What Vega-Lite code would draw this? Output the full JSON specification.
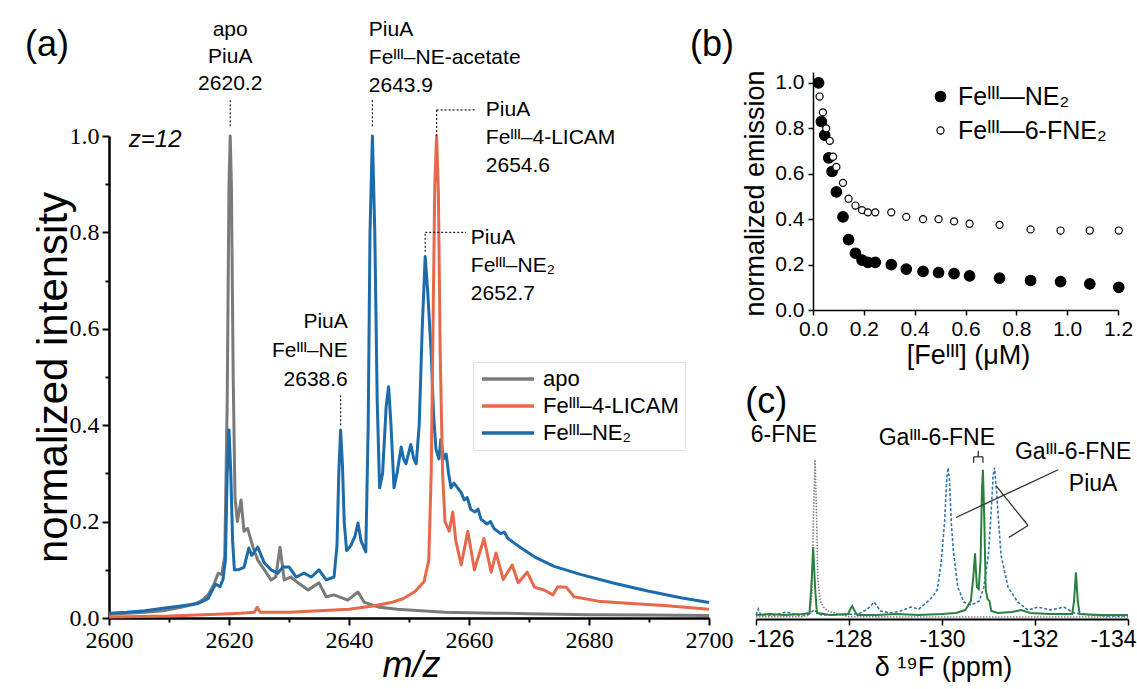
{
  "$schema": "https://vega.github.io/schema/vega-lite/v6.json",
  "background": "white",
  "padding": {"left": 24, "top": 18, "right": 0, "bottom": 0},
  "config": {
    "font": "Liberation Sans",
    "view": {"stroke": null},
    "axis": {"grid": false, "domainColor": "#000", "tickColor": "#000", "labelColor": "#000", "titleColor": "#000", "titleFontWeight": "normal", "labelFont": "Liberation Sans", "titleFont": "Liberation Sans", "labelFlush": false, "labelOverlap": false},
    "legend": {"labelFont": "Liberation Sans", "labelColor": "#000"},
    "text": {"font": "Liberation Sans", "color": "#000"}
  },
  "datasets": {
    "ms": [
      {"s":"apo","x":2600,"y":0.008},{"s":"apo","x":2603,"y":0.01},{"s":"apo","x":2606,"y":0.012},{"s":"apo","x":2609,"y":0.015},{"s":"apo","x":2612,"y":0.022},{"s":"apo","x":2614,"y":0.028},{"s":"apo","x":2615.3,"y":0.035},{"s":"apo","x":2616.5,"y":0.048},{"s":"apo","x":2617.5,"y":0.07},{"s":"apo","x":2618.2,"y":0.093},{"s":"apo","x":2618.8,"y":0.09},{"s":"apo","x":2619.3,"y":0.13},{"s":"apo","x":2619.7,"y":0.45},{"s":"apo","x":2620.0,"y":0.9},{"s":"apo","x":2620.2,"y":1.0},{"s":"apo","x":2620.4,"y":0.9},{"s":"apo","x":2620.7,"y":0.5},{"s":"apo","x":2621.0,"y":0.25},{"s":"apo","x":2621.4,"y":0.2},{"s":"apo","x":2622.0,"y":0.245},{"s":"apo","x":2622.5,"y":0.18},{"s":"apo","x":2623.1,"y":0.186},{"s":"apo","x":2624.0,"y":0.147},{"s":"apo","x":2624.8,"y":0.12},{"s":"apo","x":2625.9,"y":0.1},{"s":"apo","x":2627.0,"y":0.079},{"s":"apo","x":2627.8,"y":0.085},{"s":"apo","x":2628.5,"y":0.147},{"s":"apo","x":2629.2,"y":0.079},{"s":"apo","x":2630.3,"y":0.085},{"s":"apo","x":2631.5,"y":0.073},{"s":"apo","x":2633.2,"y":0.058},{"s":"apo","x":2635.0,"y":0.073},{"s":"apo","x":2636.2,"y":0.044},{"s":"apo","x":2637.5,"y":0.048},{"s":"apo","x":2639.8,"y":0.037},{"s":"apo","x":2641.5,"y":0.054},{"s":"apo","x":2642.5,"y":0.033},{"s":"apo","x":2644.8,"y":0.023},{"s":"apo","x":2648,"y":0.018},{"s":"apo","x":2652,"y":0.015},{"s":"apo","x":2656,"y":0.012},{"s":"apo","x":2660,"y":0.011},{"s":"apo","x":2665,"y":0.01},{"s":"apo","x":2670,"y":0.009},{"s":"apo","x":2680,"y":0.007},{"s":"apo","x":2690,"y":0.006},{"s":"apo","x":2700,"y":0.005},
      {"s":"Feᴵᴵᴵ–NE₂","x":2600,"y":0.01},{"s":"Feᴵᴵᴵ–NE₂","x":2603,"y":0.012},{"s":"Feᴵᴵᴵ–NE₂","x":2606,"y":0.015},{"s":"Feᴵᴵᴵ–NE₂","x":2609,"y":0.02},{"s":"Feᴵᴵᴵ–NE₂","x":2612,"y":0.025},{"s":"Feᴵᴵᴵ–NE₂","x":2614.8,"y":0.03},{"s":"Feᴵᴵᴵ–NE₂","x":2616.5,"y":0.04},{"s":"Feᴵᴵᴵ–NE₂","x":2617.3,"y":0.06},{"s":"Feᴵᴵᴵ–NE₂","x":2617.8,"y":0.07},{"s":"Feᴵᴵᴵ–NE₂","x":2618.5,"y":0.065},{"s":"Feᴵᴵᴵ–NE₂","x":2619.0,"y":0.08},{"s":"Feᴵᴵᴵ–NE₂","x":2619.4,"y":0.12},{"s":"Feᴵᴵᴵ–NE₂","x":2619.7,"y":0.3},{"s":"Feᴵᴵᴵ–NE₂","x":2620.0,"y":0.39},{"s":"Feᴵᴵᴵ–NE₂","x":2620.3,"y":0.3},{"s":"Feᴵᴵᴵ–NE₂","x":2620.6,"y":0.16},{"s":"Feᴵᴵᴵ–NE₂","x":2620.9,"y":0.1},{"s":"Feᴵᴵᴵ–NE₂","x":2621.5,"y":0.1},{"s":"Feᴵᴵᴵ–NE₂","x":2622.5,"y":0.105},{"s":"Feᴵᴵᴵ–NE₂","x":2623.3,"y":0.145},{"s":"Feᴵᴵᴵ–NE₂","x":2623.8,"y":0.13},{"s":"Feᴵᴵᴵ–NE₂","x":2624.8,"y":0.147},{"s":"Feᴵᴵᴵ–NE₂","x":2625.9,"y":0.114},{"s":"Feᴵᴵᴵ–NE₂","x":2627.0,"y":0.1},{"s":"Feᴵᴵᴵ–NE₂","x":2628.1,"y":0.093},{"s":"Feᴵᴵᴵ–NE₂","x":2629.0,"y":0.106},{"s":"Feᴵᴵᴵ–NE₂","x":2630.0,"y":0.106},{"s":"Feᴵᴵᴵ–NE₂","x":2631.2,"y":0.085},{"s":"Feᴵᴵᴵ–NE₂","x":2632.5,"y":0.093},{"s":"Feᴵᴵᴵ–NE₂","x":2633.7,"y":0.085},{"s":"Feᴵᴵᴵ–NE₂","x":2635.0,"y":0.1},{"s":"Feᴵᴵᴵ–NE₂","x":2636.2,"y":0.079},{"s":"Feᴵᴵᴵ–NE₂","x":2637.5,"y":0.085},{"s":"Feᴵᴵᴵ–NE₂","x":2638.0,"y":0.15},{"s":"Feᴵᴵᴵ–NE₂","x":2638.3,"y":0.3},{"s":"Feᴵᴵᴵ–NE₂","x":2638.6,"y":0.39},{"s":"Feᴵᴵᴵ–NE₂","x":2638.9,"y":0.32},{"s":"Feᴵᴵᴵ–NE₂","x":2639.2,"y":0.2},{"s":"Feᴵᴵᴵ–NE₂","x":2639.6,"y":0.14},{"s":"Feᴵᴵᴵ–NE₂","x":2640.3,"y":0.15},{"s":"Feᴵᴵᴵ–NE₂","x":2641.0,"y":0.17},{"s":"Feᴵᴵᴵ–NE₂","x":2641.5,"y":0.197},{"s":"Feᴵᴵᴵ–NE₂","x":2642.0,"y":0.16},{"s":"Feᴵᴵᴵ–NE₂","x":2642.8,"y":0.137},{"s":"Feᴵᴵᴵ–NE₂","x":2643.2,"y":0.4},{"s":"Feᴵᴵᴵ–NE₂","x":2643.5,"y":0.8},{"s":"Feᴵᴵᴵ–NE₂","x":2643.9,"y":1.0},{"s":"Feᴵᴵᴵ–NE₂","x":2644.3,"y":0.8},{"s":"Feᴵᴵᴵ–NE₂","x":2644.7,"y":0.45},{"s":"Feᴵᴵᴵ–NE₂","x":2645.1,"y":0.27},{"s":"Feᴵᴵᴵ–NE₂","x":2645.6,"y":0.3},{"s":"Feᴵᴵᴵ–NE₂","x":2646.2,"y":0.44},{"s":"Feᴵᴵᴵ–NE₂","x":2646.6,"y":0.48},{"s":"Feᴵᴵᴵ–NE₂","x":2647.0,"y":0.4},{"s":"Feᴵᴵᴵ–NE₂","x":2647.5,"y":0.27},{"s":"Feᴵᴵᴵ–NE₂","x":2648.0,"y":0.3},{"s":"Feᴵᴵᴵ–NE₂","x":2648.7,"y":0.355},{"s":"Feᴵᴵᴵ–NE₂","x":2649.1,"y":0.33},{"s":"Feᴵᴵᴵ–NE₂","x":2649.5,"y":0.32},{"s":"Feᴵᴵᴵ–NE₂","x":2650.3,"y":0.36},{"s":"Feᴵᴵᴵ–NE₂","x":2650.8,"y":0.33},{"s":"Feᴵᴵᴵ–NE₂","x":2651.2,"y":0.32},{"s":"Feᴵᴵᴵ–NE₂","x":2651.7,"y":0.4},{"s":"Feᴵᴵᴵ–NE₂","x":2652.2,"y":0.6},{"s":"Feᴵᴵᴵ–NE₂","x":2652.7,"y":0.75},{"s":"Feᴵᴵᴵ–NE₂","x":2653.1,"y":0.68},{"s":"Feᴵᴵᴵ–NE₂","x":2653.7,"y":0.55},{"s":"Feᴵᴵᴵ–NE₂","x":2654.1,"y":0.42},{"s":"Feᴵᴵᴵ–NE₂","x":2654.5,"y":0.35},{"s":"Feᴵᴵᴵ–NE₂","x":2655.0,"y":0.33},{"s":"Feᴵᴵᴵ–NE₂","x":2655.3,"y":0.37},{"s":"Feᴵᴵᴵ–NE₂","x":2655.8,"y":0.33},{"s":"Feᴵᴵᴵ–NE₂","x":2656.2,"y":0.34},{"s":"Feᴵᴵᴵ–NE₂","x":2656.6,"y":0.3},{"s":"Feᴵᴵᴵ–NE₂","x":2657.0,"y":0.27},{"s":"Feᴵᴵᴵ–NE₂","x":2657.5,"y":0.28},{"s":"Feᴵᴵᴵ–NE₂","x":2658.1,"y":0.27},{"s":"Feᴵᴵᴵ–NE₂","x":2658.7,"y":0.26},{"s":"Feᴵᴵᴵ–NE₂","x":2659.2,"y":0.245},{"s":"Feᴵᴵᴵ–NE₂","x":2659.7,"y":0.25},{"s":"Feᴵᴵᴵ–NE₂","x":2660.3,"y":0.225},{"s":"Feᴵᴵᴵ–NE₂","x":2661.0,"y":0.22},{"s":"Feᴵᴵᴵ–NE₂","x":2661.5,"y":0.226},{"s":"Feᴵᴵᴵ–NE₂","x":2662.0,"y":0.205},{"s":"Feᴵᴵᴵ–NE₂","x":2663.0,"y":0.195},{"s":"Feᴵᴵᴵ–NE₂","x":2663.6,"y":0.2},{"s":"Feᴵᴵᴵ–NE₂","x":2664.2,"y":0.185},{"s":"Feᴵᴵᴵ–NE₂","x":2665.3,"y":0.175},{"s":"Feᴵᴵᴵ–NE₂","x":2665.9,"y":0.178},{"s":"Feᴵᴵᴵ–NE₂","x":2666.5,"y":0.165},{"s":"Feᴵᴵᴵ–NE₂","x":2668.7,"y":0.145},{"s":"Feᴵᴵᴵ–NE₂","x":2670.9,"y":0.127},{"s":"Feᴵᴵᴵ–NE₂","x":2674.2,"y":0.107},{"s":"Feᴵᴵᴵ–NE₂","x":2678.7,"y":0.09},{"s":"Feᴵᴵᴵ–NE₂","x":2684.2,"y":0.072},{"s":"Feᴵᴵᴵ–NE₂","x":2689.8,"y":0.056},{"s":"Feᴵᴵᴵ–NE₂","x":2695.3,"y":0.042},{"s":"Feᴵᴵᴵ–NE₂","x":2700,"y":0.032},
      {"s":"Feᴵᴵᴵ–4-LICAM","x":2600,"y":0.002},{"s":"Feᴵᴵᴵ–4-LICAM","x":2610,"y":0.004},{"s":"Feᴵᴵᴵ–4-LICAM","x":2618,"y":0.008},{"s":"Feᴵᴵᴵ–4-LICAM","x":2622,"y":0.01},{"s":"Feᴵᴵᴵ–4-LICAM","x":2624.2,"y":0.012},{"s":"Feᴵᴵᴵ–4-LICAM","x":2624.7,"y":0.022},{"s":"Feᴵᴵᴵ–4-LICAM","x":2625.2,"y":0.012},{"s":"Feᴵᴵᴵ–4-LICAM","x":2630,"y":0.012},{"s":"Feᴵᴵᴵ–4-LICAM","x":2635,"y":0.015},{"s":"Feᴵᴵᴵ–4-LICAM","x":2640,"y":0.018},{"s":"Feᴵᴵᴵ–4-LICAM","x":2644,"y":0.025},{"s":"Feᴵᴵᴵ–4-LICAM","x":2647,"y":0.032},{"s":"Feᴵᴵᴵ–4-LICAM","x":2649,"y":0.04},{"s":"Feᴵᴵᴵ–4-LICAM","x":2651,"y":0.055},{"s":"Feᴵᴵᴵ–4-LICAM","x":2652.5,"y":0.075},{"s":"Feᴵᴵᴵ–4-LICAM","x":2653.3,"y":0.12},{"s":"Feᴵᴵᴵ–4-LICAM","x":2653.7,"y":0.3},{"s":"Feᴵᴵᴵ–4-LICAM","x":2654.0,"y":0.6},{"s":"Feᴵᴵᴵ–4-LICAM","x":2654.3,"y":0.9},{"s":"Feᴵᴵᴵ–4-LICAM","x":2654.6,"y":1.0},{"s":"Feᴵᴵᴵ–4-LICAM","x":2654.9,"y":0.88},{"s":"Feᴵᴵᴵ–4-LICAM","x":2655.2,"y":0.55},{"s":"Feᴵᴵᴵ–4-LICAM","x":2655.6,"y":0.3},{"s":"Feᴵᴵᴵ–4-LICAM","x":2656.0,"y":0.2},{"s":"Feᴵᴵᴵ–4-LICAM","x":2656.7,"y":0.18},{"s":"Feᴵᴵᴵ–4-LICAM","x":2657.3,"y":0.22},{"s":"Feᴵᴵᴵ–4-LICAM","x":2657.8,"y":0.16},{"s":"Feᴵᴵᴵ–4-LICAM","x":2658.7,"y":0.11},{"s":"Feᴵᴵᴵ–4-LICAM","x":2659.8,"y":0.18},{"s":"Feᴵᴵᴵ–4-LICAM","x":2660.9,"y":0.1},{"s":"Feᴵᴵᴵ–4-LICAM","x":2662.5,"y":0.165},{"s":"Feᴵᴵᴵ–4-LICAM","x":2663.7,"y":0.095},{"s":"Feᴵᴵᴵ–4-LICAM","x":2664.5,"y":0.135},{"s":"Feᴵᴵᴵ–4-LICAM","x":2665.7,"y":0.08},{"s":"Feᴵᴵᴵ–4-LICAM","x":2667.2,"y":0.11},{"s":"Feᴵᴵᴵ–4-LICAM","x":2668.2,"y":0.073},{"s":"Feᴵᴵᴵ–4-LICAM","x":2669.7,"y":0.095},{"s":"Feᴵᴵᴵ–4-LICAM","x":2670.9,"y":0.064},{"s":"Feᴵᴵᴵ–4-LICAM","x":2672.5,"y":0.058},{"s":"Feᴵᴵᴵ–4-LICAM","x":2674.0,"y":0.048},{"s":"Feᴵᴵᴵ–4-LICAM","x":2674.8,"y":0.065},{"s":"Feᴵᴵᴵ–4-LICAM","x":2676.2,"y":0.064},{"s":"Feᴵᴵᴵ–4-LICAM","x":2677.5,"y":0.044},{"s":"Feᴵᴵᴵ–4-LICAM","x":2681.5,"y":0.035},{"s":"Feᴵᴵᴵ–4-LICAM","x":2687,"y":0.03},{"s":"Feᴵᴵᴵ–4-LICAM","x":2692.5,"y":0.026},{"s":"Feᴵᴵᴵ–4-LICAM","x":2700,"y":0.018}
    ],
    "aC": [{"x":2620.2,"y":1.243,"t":"apo\nPiuA\n2620.2"}],
    "aL": [
      {"x":2643.3,"y":1.243,"t":"PiuA\nFeᴵᴵᴵ–NE-acetate\n2643.9"},
      {"x":2662.8,"y":1.076,"t":"PiuA\nFeᴵᴵᴵ–4-LICAM\n2654.6"},
      {"x":2660.3,"y":0.812,"t":"PiuA\nFeᴵᴵᴵ–NE₂\n2652.7"}
    ],
    "aR": [{"x":2639.8,"y":0.636,"t":"PiuA\nFeᴵᴵᴵ–NE\n2638.6"}],
    "aRule": [
      {"x":2620.2,"y":1.02,"x2":2620.2,"y2":1.075},
      {"x":2643.9,"y":1.02,"x2":2643.9,"y2":1.075},
      {"x":2654.6,"y":1.0,"x2":2654.6,"y2":1.054},
      {"x":2654.6,"y":1.054,"x2":2661.3,"y2":1.054},
      {"x":2652.7,"y":0.76,"x2":2652.7,"y2":0.8},
      {"x":2652.7,"y":0.8,"x2":2659.5,"y2":0.8},
      {"x":2638.6,"y":0.4,"x2":2638.6,"y2":0.463}
    ],
    "fl": [
      {"s":"Feᴵᴵᴵ—NE₂","x":0.022,"y":1.0},{"s":"Feᴵᴵᴵ—NE₂","x":0.033,"y":0.83},{"s":"Feᴵᴵᴵ—NE₂","x":0.046,"y":0.77},{"s":"Feᴵᴵᴵ—NE₂","x":0.062,"y":0.67},{"s":"Feᴵᴵᴵ—NE₂","x":0.075,"y":0.61},{"s":"Feᴵᴵᴵ—NE₂","x":0.092,"y":0.52},{"s":"Feᴵᴵᴵ—NE₂","x":0.118,"y":0.41},{"s":"Feᴵᴵᴵ—NE₂","x":0.14,"y":0.31},{"s":"Feᴵᴵᴵ—NE₂","x":0.167,"y":0.25},{"s":"Feᴵᴵᴵ—NE₂","x":0.193,"y":0.22},{"s":"Feᴵᴵᴵ—NE₂","x":0.216,"y":0.21},{"s":"Feᴵᴵᴵ—NE₂","x":0.245,"y":0.21},{"s":"Feᴵᴵᴵ—NE₂","x":0.308,"y":0.2},{"s":"Feᴵᴵᴵ—NE₂","x":0.367,"y":0.18},{"s":"Feᴵᴵᴵ—NE₂","x":0.433,"y":0.17},{"s":"Feᴵᴵᴵ—NE₂","x":0.494,"y":0.165},{"s":"Feᴵᴵᴵ—NE₂","x":0.555,"y":0.16},{"s":"Feᴵᴵᴵ—NE₂","x":0.616,"y":0.15},{"s":"Feᴵᴵᴵ—NE₂","x":0.734,"y":0.14},{"s":"Feᴵᴵᴵ—NE₂","x":0.856,"y":0.13},{"s":"Feᴵᴵᴵ—NE₂","x":0.974,"y":0.125},{"s":"Feᴵᴵᴵ—NE₂","x":1.089,"y":0.115},{"s":"Feᴵᴵᴵ—NE₂","x":1.203,"y":0.1},
      {"s":"Feᴵᴵᴵ—6-FNE₂","x":0.026,"y":0.94},{"s":"Feᴵᴵᴵ—6-FNE₂","x":0.039,"y":0.87},{"s":"Feᴵᴵᴵ—6-FNE₂","x":0.052,"y":0.8},{"s":"Feᴵᴵᴵ—6-FNE₂","x":0.066,"y":0.745},{"s":"Feᴵᴵᴵ—6-FNE₂","x":0.079,"y":0.675},{"s":"Feᴵᴵᴵ—6-FNE₂","x":0.092,"y":0.63},{"s":"Feᴵᴵᴵ—6-FNE₂","x":0.118,"y":0.56},{"s":"Feᴵᴵᴵ—6-FNE₂","x":0.14,"y":0.49},{"s":"Feᴵᴵᴵ—6-FNE₂","x":0.167,"y":0.46},{"s":"Feᴵᴵᴵ—6-FNE₂","x":0.193,"y":0.44},{"s":"Feᴵᴵᴵ—6-FNE₂","x":0.216,"y":0.43},{"s":"Feᴵᴵᴵ—6-FNE₂","x":0.245,"y":0.43},{"s":"Feᴵᴵᴵ—6-FNE₂","x":0.308,"y":0.43},{"s":"Feᴵᴵᴵ—6-FNE₂","x":0.367,"y":0.41},{"s":"Feᴵᴵᴵ—6-FNE₂","x":0.433,"y":0.4},{"s":"Feᴵᴵᴵ—6-FNE₂","x":0.494,"y":0.4},{"s":"Feᴵᴵᴵ—6-FNE₂","x":0.555,"y":0.39},{"s":"Feᴵᴵᴵ—6-FNE₂","x":0.616,"y":0.38},{"s":"Feᴵᴵᴵ—6-FNE₂","x":0.734,"y":0.375},{"s":"Feᴵᴵᴵ—6-FNE₂","x":0.856,"y":0.355},{"s":"Feᴵᴵᴵ—6-FNE₂","x":0.974,"y":0.35},{"s":"Feᴵᴵᴵ—6-FNE₂","x":1.089,"y":0.35},{"s":"Feᴵᴵᴵ—6-FNE₂","x":1.203,"y":0.35}
    ],
    "nmr": [
      {"s":"ref","x":-126,"y":0.012},{"s":"ref","x":-126.5,"y":0.012},{"s":"ref","x":-127,"y":0.012},{"s":"ref","x":-127.15,"y":0.02},{"s":"ref","x":-127.2,"y":0.12},{"s":"ref","x":-127.24,"y":0.55},{"s":"ref","x":-127.27,"y":0.8},{"s":"ref","x":-127.3,"y":0.55},{"s":"ref","x":-127.33,"y":0.2},{"s":"ref","x":-127.38,"y":0.09},{"s":"ref","x":-127.45,"y":0.06},{"s":"ref","x":-127.55,"y":0.04},{"s":"ref","x":-127.7,"y":0.03},{"s":"ref","x":-127.85,"y":0.02},{"s":"ref","x":-128,"y":0.012},{"s":"ref","x":-129,"y":0.01},{"s":"ref","x":-130,"y":0.01},{"s":"ref","x":-131,"y":0.01},{"s":"ref","x":-132,"y":0.01},{"s":"ref","x":-133,"y":0.01},{"s":"ref","x":-134,"y":0.01},
      {"s":"ga","x":-126,"y":0.02},{"s":"ga","x":-126.05,"y":0.05},{"s":"ga","x":-126.1,"y":0.02},{"s":"ga","x":-126.4,"y":0.02},{"s":"ga","x":-126.65,"y":0.035},{"s":"ga","x":-126.9,"y":0.02},{"s":"ga","x":-127.1,"y":0.02},{"s":"ga","x":-127.25,"y":0.045},{"s":"ga","x":-127.4,"y":0.02},{"s":"ga","x":-128.2,"y":0.025},{"s":"ga","x":-128.4,"y":0.05},{"s":"ga","x":-128.54,"y":0.085},{"s":"ga","x":-128.68,"y":0.04},{"s":"ga","x":-128.9,"y":0.03},{"s":"ga","x":-129.1,"y":0.04},{"s":"ga","x":-129.33,"y":0.06},{"s":"ga","x":-129.5,"y":0.05},{"s":"ga","x":-129.7,"y":0.09},{"s":"ga","x":-129.81,"y":0.115},{"s":"ga","x":-129.9,"y":0.15},{"s":"ga","x":-129.98,"y":0.28},{"s":"ga","x":-130.06,"y":0.5},{"s":"ga","x":-130.1,"y":0.7},{"s":"ga","x":-130.13,"y":0.76},{"s":"ga","x":-130.16,"y":0.7},{"s":"ga","x":-130.2,"y":0.48},{"s":"ga","x":-130.25,"y":0.33},{"s":"ga","x":-130.34,"y":0.16},{"s":"ga","x":-130.47,"y":0.085},{"s":"ga","x":-130.62,"y":0.07},{"s":"ga","x":-130.8,"y":0.09},{"s":"ga","x":-130.9,"y":0.16},{"s":"ga","x":-131.0,"y":0.33},{"s":"ga","x":-131.06,"y":0.55},{"s":"ga","x":-131.1,"y":0.72},{"s":"ga","x":-131.13,"y":0.76},{"s":"ga","x":-131.17,"y":0.65},{"s":"ga","x":-131.22,"y":0.48},{"s":"ga","x":-131.27,"y":0.32},{"s":"ga","x":-131.42,"y":0.16},{"s":"ga","x":-131.63,"y":0.085},{"s":"ga","x":-131.85,"y":0.045},{"s":"ga","x":-132.06,"y":0.06},{"s":"ga","x":-132.34,"y":0.045},{"s":"ga","x":-132.62,"y":0.06},{"s":"ga","x":-132.84,"y":0.03},{"s":"ga","x":-133.2,"y":0.02},{"s":"ga","x":-133.6,"y":0.015},{"s":"ga","x":-134,"y":0.015},
      {"s":"piua","x":-126,"y":0.02},{"s":"piua","x":-126.3,"y":0.025},{"s":"piua","x":-126.6,"y":0.02},{"s":"piua","x":-127.0,"y":0.025},{"s":"piua","x":-127.15,"y":0.03},{"s":"piua","x":-127.19,"y":0.16},{"s":"piua","x":-127.23,"y":0.36},{"s":"piua","x":-127.27,"y":0.16},{"s":"piua","x":-127.31,"y":0.03},{"s":"piua","x":-127.6,"y":0.02},{"s":"piua","x":-127.98,"y":0.025},{"s":"piua","x":-128.03,"y":0.05},{"s":"piua","x":-128.07,"y":0.065},{"s":"piua","x":-128.11,"y":0.045},{"s":"piua","x":-128.18,"y":0.02},{"s":"piua","x":-128.6,"y":0.02},{"s":"piua","x":-129.0,"y":0.025},{"s":"piua","x":-129.5,"y":0.02},{"s":"piua","x":-130.0,"y":0.025},{"s":"piua","x":-130.3,"y":0.03},{"s":"piua","x":-130.5,"y":0.045},{"s":"piua","x":-130.62,"y":0.09},{"s":"piua","x":-130.67,"y":0.2},{"s":"piua","x":-130.71,"y":0.33},{"s":"piua","x":-130.75,"y":0.16},{"s":"piua","x":-130.79,"y":0.15},{"s":"piua","x":-130.83,"y":0.3},{"s":"piua","x":-130.86,"y":0.65},{"s":"piua","x":-130.88,"y":0.75},{"s":"piua","x":-130.91,"y":0.5},{"s":"piua","x":-130.94,"y":0.15},{"s":"piua","x":-130.98,"y":0.1},{"s":"piua","x":-131.02,"y":0.09},{"s":"piua","x":-131.06,"y":0.04},{"s":"piua","x":-131.2,"y":0.03},{"s":"piua","x":-131.5,"y":0.035},{"s":"piua","x":-131.7,"y":0.045},{"s":"piua","x":-131.9,"y":0.03},{"s":"piua","x":-132.3,"y":0.025},{"s":"piua","x":-132.8,"y":0.025},{"s":"piua","x":-132.84,"y":0.09},{"s":"piua","x":-132.88,"y":0.235},{"s":"piua","x":-132.92,"y":0.09},{"s":"piua","x":-132.96,"y":0.025},{"s":"piua","x":-133.4,"y":0.02},{"s":"piua","x":-134,"y":0.02}
    ],
    "cRule": [
      {"x":-130.3,"y":0.51,"x2":-132.5,"y2":0.75},
      {"x":-131.16,"y":0.67,"x2":-131.85,"y2":0.47},
      {"x":-131.85,"y":0.47,"x2":-131.44,"y2":0.41},
      {"x":-130.68,"y":0.815,"x2":-130.88,"y2":0.815},
      {"x":-130.68,"y":0.815,"x2":-130.68,"y2":0.785},
      {"x":-130.88,"y":0.815,"x2":-130.88,"y2":0.785},
      {"x":-130.78,"y":0.815,"x2":-130.78,"y2":0.845}
    ],
    "cText": [
      {"x":-126.6,"y":0.925,"t":"6-FNE"},
      {"x":-129.89,"y":0.91,"t":"Gaᴵᴵᴵ-6-FNE"},
      {"x":-132.82,"y":0.84,"t":"Gaᴵᴵᴵ-6-FNE"},
      {"x":-133.25,"y":0.68,"t":"PiuA"}
    ]
  },
  "bounds": "flush",
  "spacing": 104,
  "hconcat": [
    {
      "width": 600,
      "height": 546,
      "layer": [
        {
          "data": {"name": "ms"},
          "mark": {"type": "line", "strokeWidth": 3, "strokeJoin": "round"},
          "encoding": {
            "x": {"field": "x", "type": "quantitative",
              "scale": {"domain": [2600, 2700], "nice": false, "zero": false},
              "axis": {"title": "m/z", "titleFontStyle": "italic", "titleFontSize": 36, "titleX": 302, "titleY": 47, "titleBaseline": "middle",
                "values": [2600,2610,2620,2630,2640,2650,2660,2670,2680,2690,2700], "format": "d",
                "labelExpr": "datum.value % 20 === 0 ? datum.label : ''",
                "labelFont": "Liberation Sans Narrow", "labelFontSize": 24, "labelPadding": 3,
                "tickSize": {"condition": {"test": "datum.value % 20 === 0", "value": 7}, "value": 4},
                "tickWidth": 2, "domainWidth": 2.5}},
            "y": {"field": "y", "type": "quantitative",
              "scale": {"domain": [0, 1], "range": [546, 64], "nice": false, "zero": false},
              "axis": {"title": "normalized intensity", "titleFontSize": 42, "titleX": -56, "titleY": 305, "titleBaseline": "middle",
                "values": [0,0.1,0.2,0.3,0.4,0.5,0.6,0.7,0.8,0.9,1.0], "format": ".1f",
                "labelExpr": "round(datum.value*10) % 2 === 0 ? datum.label : ''",
                "labelFont": "Liberation Sans Narrow", "labelFontSize": 24, "labelPadding": 3,
                "tickSize": {"condition": {"test": "round(datum.value*10) % 2 === 0", "value": 7}, "value": 4},
                "tickWidth": 2, "domainWidth": 2.5}},
            "color": {"field": "s", "type": "nominal", "sort": null,
              "scale": {"domain": ["apo", "Feᴵᴵᴵ–4-LICAM", "Feᴵᴵᴵ–NE₂"], "range": ["#7a7a7a", "#e8694a", "#1c6bab"]},
              "legend": {"orient": "none", "legendX": 364, "legendY": 290, "title": null, "symbolType": "M-3,0H3", "symbolSize": 300, "symbolStrokeWidth": 3.5, "symbolOffset": 18,
                "labelFontSize": 22, "labelOffset": 24, "rowPadding": 5, "padding": 6, "strokeColor": "#e3e3e3", "labelLimit": 300}}
          }
        },
        {
          "data": {"name": "aRule"},
          "mark": {"type": "rule", "strokeDash": [2, 2], "strokeWidth": 1.2, "color": "#222"},
          "encoding": {
            "x": {"field": "x", "type": "quantitative"},
            "y": {"field": "y", "type": "quantitative"},
            "x2": {"field": "x2"},
            "y2": {"field": "y2"}
          }
        },
        {
          "data": {"name": "aC"},
          "mark": {"type": "text", "align": "center", "baseline": "top", "fontSize": 21, "lineBreak": "\n", "lineHeight": 27},
          "encoding": {"x": {"field": "x", "type": "quantitative"}, "y": {"field": "y", "type": "quantitative"}, "text": {"field": "t"}}
        },
        {
          "data": {"name": "aL"},
          "mark": {"type": "text", "align": "left", "baseline": "top", "fontSize": 21, "lineBreak": "\n", "lineHeight": 28},
          "encoding": {"x": {"field": "x", "type": "quantitative"}, "y": {"field": "y", "type": "quantitative"}, "text": {"field": "t"}}
        },
        {
          "data": {"name": "aR"},
          "mark": {"type": "text", "align": "right", "baseline": "top", "fontSize": 21, "lineBreak": "\n", "lineHeight": 29},
          "encoding": {"x": {"field": "x", "type": "quantitative"}, "y": {"field": "y", "type": "quantitative"}, "text": {"field": "t"}}
        },
        {
          "data": {"values": [{"x": 2603.3, "y": 0.992, "t": "z=12"}]},
          "mark": {"type": "text", "align": "left", "baseline": "middle", "fontSize": 24, "fontStyle": "italic"},
          "encoding": {"x": {"field": "x", "type": "quantitative"}, "y": {"field": "y", "type": "quantitative"}, "text": {"field": "t"}}
        },
        {
          "data": {"values": [{"x": 2586, "y": 1.189, "t": "(a)"}]},
          "mark": {"type": "text", "align": "left", "baseline": "middle", "fontSize": 36},
          "encoding": {"x": {"field": "x", "type": "quantitative"}, "y": {"field": "y", "type": "quantitative"}, "text": {"field": "t"}}
        }
      ]
    },
    {
      "bounds": "flush",
      "spacing": 110,
      "vconcat": [
        {
          "width": 305,
          "height": 238,
          "layer": [
            {
              "data": {"name": "fl"},
              "mark": {"type": "point", "strokeWidth": 1.2, "opacity": 1},
              "encoding": {
                "x": {"field": "x", "type": "quantitative", "scale": {"domain": [0, 1.2], "nice": false},
                  "axis": {"title": "[Feᴵᴵᴵ] (μM)", "titleFontSize": 27, "titleX": 155, "titleY": 45, "titleBaseline": "middle",
                    "values": [0,0.1,0.2,0.3,0.4,0.5,0.6,0.7,0.8,0.9,1.0,1.1,1.2],
                    "labelExpr": "round(datum.value*10) % 2 === 0 ? format(datum.value, '.1f') : ''",
                    "labelFontSize": 21, "labelPadding": 3,
                    "tickSize": {"condition": {"test": "round(datum.value*10) % 2 === 0", "value": 5}, "value": 3},
                    "tickWidth": 1.5, "domainWidth": 1.5}},
                "y": {"field": "y", "type": "quantitative", "scale": {"domain": [0, 1.048], "nice": false},
                  "axis": {"title": "normalized emission", "titleFontSize": 27, "titleX": -58, "titleY": 121, "titleBaseline": "middle",
                    "values": [0,0.1,0.2,0.3,0.4,0.5,0.6,0.7,0.8,0.9,1.0],
                    "labelExpr": "round(datum.value*10) % 2 === 0 ? format(datum.value, '.1f') : ''",
                    "labelFontSize": 21, "labelPadding": 4,
                    "tickSize": {"condition": {"test": "round(datum.value*10) % 2 === 0", "value": 5}, "value": 3},
                    "tickWidth": 1.5, "domainWidth": 1.5}},
                "fill": {"field": "s", "type": "nominal", "sort": null,
                  "scale": {"domain": ["Feᴵᴵᴵ—NE₂", "Feᴵᴵᴵ—6-FNE₂"], "range": ["#000000", "#ffffff"]},
                  "legend": {"orient": "none", "legendX": 819, "legendY": 12, "padding": 0, "title": null, "labelFontSize": 25, "labelOffset": 5, "rowPadding": 8, "symbolStrokeWidth": 1.2}},
                "stroke": {"field": "s", "type": "nominal", "sort": null,
                  "scale": {"domain": ["Feᴵᴵᴵ—NE₂", "Feᴵᴵᴵ—6-FNE₂"], "range": ["#000000", "#000000"]},
                  "legend": {"orient": "none", "legendX": 819, "legendY": 12, "padding": 0, "title": null, "labelFontSize": 25, "labelOffset": 5, "rowPadding": 8, "symbolStrokeWidth": 1.2}},
                "size": {"field": "s", "type": "nominal", "sort": null,
                  "scale": {"domain": ["Feᴵᴵᴵ—NE₂", "Feᴵᴵᴵ—6-FNE₂"], "range": [110, 50]},
                  "legend": {"orient": "none", "legendX": 819, "legendY": 12, "padding": 0, "title": null, "labelFontSize": 25, "labelOffset": 5, "rowPadding": 8, "symbolStrokeWidth": 1.2}}
              }
            },
            {
              "data": {"values": [{"x": -0.397, "y": 1.167, "t": "(b)"}]},
              "mark": {"type": "text", "align": "center", "baseline": "middle", "fontSize": 36},
              "encoding": {"x": {"field": "x", "type": "quantitative"}, "y": {"field": "y", "type": "quantitative"}, "text": {"field": "t"}}
            }
          ]
        },
        {
          "width": 305,
          "height": 199,
          "layer": [
            {
              "data": {"name": "nmr"},
              "transform": [{"filter": "datum.s === 'ref'"}],
              "mark": {"type": "line", "strokeWidth": 1.6, "strokeDash": [1.5, 1.5], "color": "#7d7d7d"},
              "encoding": {
                "x": {"field": "x", "type": "quantitative",
                  "scale": {"domain": [-126, -134], "range": [-57, 315], "nice": false, "zero": false},
                  "axis": {"title": "δ ¹⁹F (ppm)", "titleFontSize": 27, "titleX": 130, "titleY": 48, "titleBaseline": "middle",
                    "values": [-126,-126.5,-127,-127.5,-128,-128.5,-129,-129.5,-130,-130.5,-131,-131.5,-132,-132.5,-133,-133.5,-134],
                    "labelExpr": "datum.value % 2 === 0 ? '-' + abs(datum.value) : ''",
                    "labelFontSize": 23, "labelPadding": 3, "labelFlush": true, "labelFlushOffset": 8,
                    "tickSize": {"condition": {"test": "datum.value % 2 === 0", "value": 6}, "value": 3},
                    "tickWidth": 1.5, "domainWidth": 2}},
                "y": {"field": "y", "type": "quantitative", "scale": {"domain": [0, 1], "nice": false}, "axis": null}
              }
            },
            {
              "data": {"name": "nmr"},
              "transform": [{"filter": "datum.s === 'ga'"}],
              "mark": {"type": "line", "strokeWidth": 1.6, "strokeDash": [3, 2], "color": "#3474ad"},
              "encoding": {"x": {"field": "x", "type": "quantitative"}, "y": {"field": "y", "type": "quantitative"}}
            },
            {
              "data": {"name": "nmr"},
              "transform": [{"filter": "datum.s === 'piua'"}],
              "mark": {"type": "line", "strokeWidth": 2, "color": "#2b8040"},
              "encoding": {"x": {"field": "x", "type": "quantitative"}, "y": {"field": "y", "type": "quantitative"}}
            },
            {
              "data": {"name": "cRule"},
              "mark": {"type": "rule", "strokeWidth": 1.3, "color": "#333"},
              "encoding": {
                "x": {"field": "x", "type": "quantitative"},
                "y": {"field": "y", "type": "quantitative"},
                "x2": {"field": "x2"},
                "y2": {"field": "y2"}
              }
            },
            {
              "data": {"name": "cText"},
              "mark": {"type": "text", "align": "center", "baseline": "middle", "fontSize": 23},
              "encoding": {"x": {"field": "x", "type": "quantitative"}, "y": {"field": "y", "type": "quantitative"}, "text": {"field": "t"}}
            },
            {
              "data": {"values": [{"x": -126.22, "y": 1.09, "t": "(c)"}]},
              "mark": {"type": "text", "align": "center", "baseline": "middle", "fontSize": 36},
              "encoding": {"x": {"field": "x", "type": "quantitative"}, "y": {"field": "y", "type": "quantitative"}, "text": {"field": "t"}}
            }
          ]
        }
      ]
    }
  ]
}
